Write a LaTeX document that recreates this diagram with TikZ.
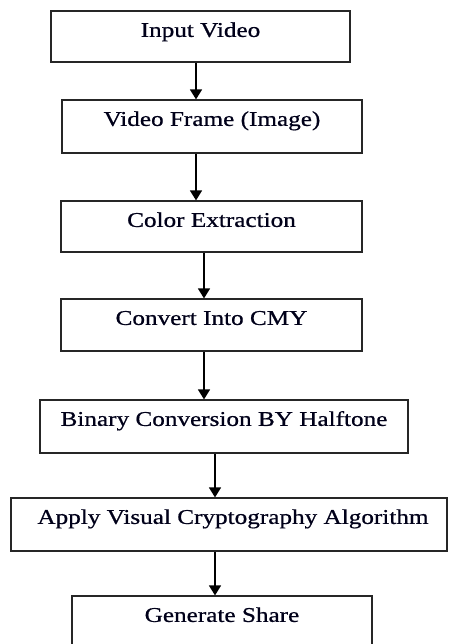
\documentclass[tikz,border=0pt]{standalone}
\usepackage{fontspec}
\setmainfont[FakeStretch=1.2, FakeBold=0.7]{Liberation Serif}
\usetikzlibrary{arrows.meta}

\tikzset{
  stepbox/.style={draw=black!85, line width=1.2pt, rectangle, inner sep=0pt},
  steptext/.style={anchor=base, inner sep=0pt, text=black!90!blue, font=\fontsize{21}{24}\selectfont},
  flow/.style={line width=1.5pt, -{Triangle[length=10pt,width=12pt]}}
}

\begin{document}
\begin{tikzpicture}[x=1pt, y=-1pt]
  \useasboundingbox (0,0) rectangle (448,644);

  % process boxes (size + centre)
  \node[stepbox, minimum width=299pt, minimum height=51pt] (b1) at (200.5,36.5) {};
  \node[stepbox, minimum width=300pt, minimum height=53pt] (b2) at (212,126.5) {};
  \node[stepbox, minimum width=301pt, minimum height=51pt] (b3) at (211.5,226.5) {};
  \node[stepbox, minimum width=301pt, minimum height=52pt] (b4) at (211.5,325) {};
  \node[stepbox, minimum width=368pt, minimum height=53pt] (b5) at (224,426.5) {};
  \node[stepbox, minimum width=436pt, minimum height=53pt] (b6) at (229,524.5) {};
  \node[stepbox, minimum width=300pt, minimum height=56pt] (b7) at (222,624) {};

  % captions, set near the top of each box
  \node[steptext] (t1) at ([yshift=-26.5pt]b1.north) {Input Video};
  \node[steptext] (t2) at ([yshift=-26.5pt]b2.north) {Video Frame (Image)};
  \node[steptext] (t3) at ([yshift=-26.5pt]b3.north) {Color Extraction};
  \node[steptext] (t4) at ([yshift=-26.5pt]b4.north) {Convert Into CMY};
  \node[steptext] (t5) at ([yshift=-26.5pt]b5.north) {Binary Conversion BY Halftone};
  \node[steptext] (t6) at ([xshift=4pt,yshift=-26.5pt]b6.north) {Apply Visual Cryptography Algorithm};
  \node[steptext] (t7) at ([yshift=-26.5pt]b7.north) {Generate Share};

  % connectors
  \draw[flow] ([xshift=-4.5pt]b1.south) -- ([xshift=-4.5pt]b1.south |- b2.north);
  \draw[flow] ([xshift=-16pt]b2.south) -- ([xshift=-16pt]b2.south |- b3.north);
  \draw[flow] ([xshift=-7.5pt]b3.south) -- ([xshift=-7.5pt]b3.south |- b4.north);
  \draw[flow] ([xshift=-7.5pt]b4.south) -- ([xshift=-7.5pt]b4.south |- b5.north);
  \draw[flow] ([xshift=-9pt]b5.south) -- ([xshift=-9pt]b5.south |- b6.north);
  \draw[flow] ([xshift=-14pt]b6.south) -- ([xshift=-14pt]b6.south |- b7.north);
\end{tikzpicture}
\end{document}
